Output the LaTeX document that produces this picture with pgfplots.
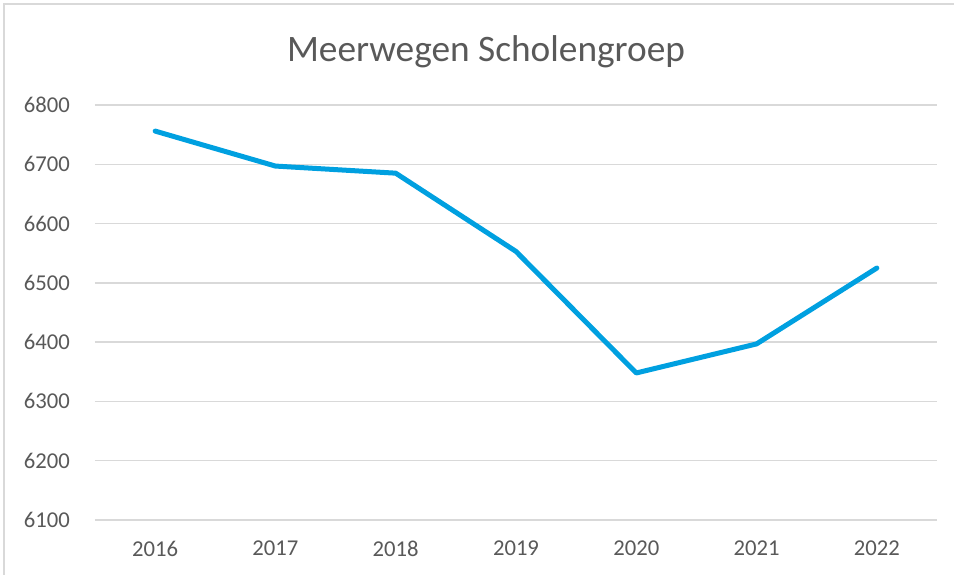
\documentclass[border=0pt]{standalone}
\usepackage{pgfplots}
\pgfplotsset{compat=1.18}
\usepackage{fontspec}
\setmainfont{Carlito}
\definecolor{txt}{HTML}{595959}
\definecolor{grd}{HTML}{D9D9D9}
\definecolor{ln}{RGB}{0,160,224}
\begin{document}
\begin{tikzpicture}
\useasboundingbox (0,0) rectangle (715.5pt,431.25pt);
\draw[grd, line width=1.5pt] (3pt,-5pt) -- (3pt,428.25pt) -- (720pt,428.25pt);
\begin{axis}[
  at={(71.25pt,41.25pt)}, anchor=south west,
  scale only axis, width=631.5pt, height=311.25pt,
  xmin=-0.5, xmax=6.5, ymin=6100, ymax=6800,
  xtick=data, xticklabels={2016,2017,2018,2019,2020,2021,2022},
  ytick={6100,6200,6300,6400,6500,6600,6700,6800},
  ymajorgrids, grid style={grd, line width=1.1pt},
  axis line style={draw=none}, major tick length=0pt,
  /pgf/number format/assume math mode=true,
  /pgf/number format/1000 sep={},
  tick label style={font=\fontsize{17}{20}\selectfont, text=txt, inner sep=0pt},
  yticklabel style={xshift=-18.75pt},
  xticklabel style={yshift=-15.5pt},
  clip=false,
]
\addplot[ln, line width=3.75pt, line cap=round, line join=round] coordinates {
(0,6756) (1,6697) (2,6685) (3,6553) (4,6348) (5,6397) (6,6525)
};
\end{axis}
\node[anchor=base, text=txt, font=\fontsize{28}{32}\selectfont, inner sep=0pt] at (364.5pt,384.75pt) {Meerwegen Scholengroep};
\end{tikzpicture}
\end{document}
